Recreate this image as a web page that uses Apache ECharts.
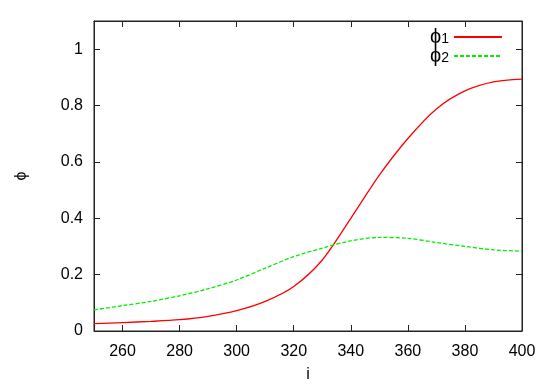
<!DOCTYPE html>
<html><head><meta charset="utf-8">
<script src="https://cdn.jsdelivr.net/npm/echarts@6/dist/echarts.min.js"></script>
<style>html,body{margin:0;padding:0;background:#fff}#c{width:554px;height:388px}</style>
</head><body><div id="c"></div>
<script>
const xValues = [250, 260, 270, 280, 290, 300, 310, 320, 330, 340, 350, 360, 370, 380, 390, 400];
const phi1 = [0.026, 0.030, 0.034, 0.040, 0.052, 0.072, 0.105, 0.158, 0.252, 0.400, 0.553, 0.683, 0.788, 0.852, 0.884, 0.894];
const phi2 = [0.075, 0.090, 0.105, 0.125, 0.150, 0.181, 0.223, 0.264, 0.294, 0.320, 0.332, 0.329, 0.314, 0.300, 0.288, 0.283];
const xTicks = [260, 280, 300, 320, 340, 360, 380, 400];
const yTicks = [0, 0.2, 0.4, 0.6, 0.8, 1];
const seriesNames = ['phi1', 'phi2'];

const font = 'Liberation Sans, Arial, sans-serif';
const axisColor = '#222';
const chart = echarts.init(document.getElementById('c'));
const pair = (xs, ys) => xs.map((x, i) => [x, ys[i]]);
const tickStyle = { color: axisColor, width: 1 };
chart.setOption({
  animation: false,
  textStyle: { fontFamily: font },
  grid: { left: 94, right: 32, top: 21, bottom: 55, containLabel: false,
          show: true, borderColor: axisColor, borderWidth: 1, backgroundColor: 'transparent' },
  xAxis: [
    { type: 'value', min: 250, max: 400, position: 'bottom', name: 'i', nameLocation: 'middle', nameGap: 36,
      nameTextStyle: { fontSize: 16, color: '#000', fontFamily: font },
      axisLine: { show: true, onZero: false, lineStyle: tickStyle },
      axisTick: { show: true, inside: true, length: 6, customValues: xTicks, lineStyle: tickStyle },
      axisLabel: { show: true, customValues: xTicks, margin: 13, fontSize: 16, color: '#000', fontFamily: font },
      splitLine: { show: false } },
    { type: 'value', min: 250, max: 400, position: 'top',
      axisLine: { show: true, onZero: false, lineStyle: tickStyle },
      axisTick: { show: true, inside: true, length: 6, customValues: xTicks, lineStyle: tickStyle },
      axisLabel: { show: false, customValues: xTicks }, splitLine: { show: false } }
  ],
  yAxis: [
    { type: 'value', min: 0, max: 1.1, position: 'left', name: 'ϕ', nameLocation: 'middle', nameGap: 64, nameRotate: 90,
      nameTextStyle: { fontSize: 16, color: '#000', fontFamily: font },
      axisLine: { show: true, onZero: false, lineStyle: tickStyle },
      axisTick: { show: true, inside: true, length: 6, customValues: yTicks, lineStyle: tickStyle },
      axisLabel: { show: true, customValues: yTicks, margin: 11, fontSize: 16, color: '#000', fontFamily: font },
      splitLine: { show: false } },
    { type: 'value', min: 0, max: 1.1, position: 'right',
      axisLine: { show: true, onZero: false, lineStyle: tickStyle },
      axisTick: { show: true, inside: true, length: 6, customValues: yTicks, lineStyle: tickStyle },
      axisLabel: { show: false, customValues: yTicks }, splitLine: { show: false } }
  ],
  legend: {
    orient: 'vertical', right: 46, top: 21, align: 'right',
    itemWidth: 48, itemHeight: 10, itemGap: -2,
    itemStyle: { opacity: 0 },
    data: seriesNames,
    formatter: n => n === 'phi1' ? '{a|ϕ}{b|1}' : '{a|ϕ}{b|2}',
    textStyle: {
      rich: {
        a: { fontSize: 20, lineHeight: 18, fontFamily: font, color: '#000' },
        b: { fontSize: 14, lineHeight: 18, fontFamily: font, color: '#000', verticalAlign: 'bottom', padding: [6, 0, 0, 0] }
      }
    }
  },
  series: [
    { name: seriesNames[0], type: 'line', data: pair(xValues, phi1), smooth: 0.3, symbol: 'none',
      lineStyle: { color: '#ff0000', width: 1.3 }, itemStyle: { color: '#ff0000' } },
    { name: seriesNames[1], type: 'line', data: pair(xValues, phi2), smooth: 0.3, symbol: 'none',
      lineStyle: { color: '#00ee00', width: 1.3, type: [4, 2] }, itemStyle: { color: '#00ee00' } }
  ]
});
</script></body></html>
